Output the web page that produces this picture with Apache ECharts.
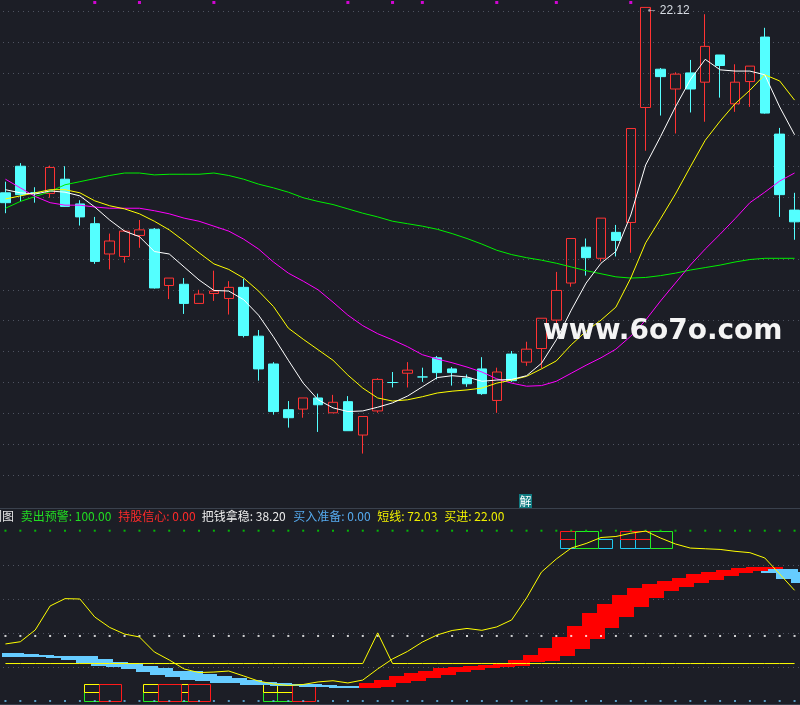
<!DOCTYPE html>
<html>
<head>
<meta charset="utf-8">
<title>K线 副图</title>
<script src="https://cdn.jsdelivr.net/npm/echarts@6.0.0/dist/echarts.min.js"></script>
<style>
html,body{margin:0;padding:0;background:#1c1e26;overflow:hidden;}
#chart{width:800px;height:705px;}
</style>
</head>
<body>
<div id="chart"></div>
<script>
// ---------- main panel data: [open, close, low, high] ----------
const ohlc = [
 [19.12,18.96,18.79,19.30],[19.55,19.09,18.98,19.60],[19.12,19.12,18.96,19.21],[19.11,19.53,19.04,19.56],
 [19.34,18.90,18.89,19.55],[18.94,18.73,18.59,19.00],[18.62,18.01,17.97,18.73],[18.13,18.34,17.88,18.46],
 [18.09,18.50,17.99,18.52],[18.43,18.52,18.23,18.68],[18.53,17.58,17.57,18.55],[17.62,17.74,17.40,17.74],
 [17.64,17.33,17.16,17.74],[17.33,17.48,17.33,17.55],[17.49,17.53,17.37,17.86],[17.41,17.59,17.15,17.69],
 [17.59,16.81,16.78,17.73],[16.80,16.27,16.08,16.90],[16.35,15.58,15.53,16.38],[15.61,15.48,15.32,15.75],
 [15.62,15.80,15.48,15.80],[15.80,15.69,15.25,15.87],[15.56,15.73,15.56,15.85],[15.74,15.27,15.27,15.83],
 [15.20,15.50,14.90,15.50],[15.59,16.10,15.56,16.12],[16.05,16.05,15.97,16.22],[16.20,16.25,15.97,16.38],
 [16.14,16.14,16.06,16.29],[16.45,16.21,16.10,16.48],[16.27,16.21,16.00,16.30],[16.12,16.03,15.98,16.18],
 [16.27,15.87,15.85,16.46],[15.76,16.22,15.56,16.29],[16.51,16.08,16.06,16.56],[16.38,16.59,16.32,16.71],
 [16.60,17.09,16.28,17.09],[17.06,17.54,16.98,17.84],[17.66,18.38,17.60,18.38],[18.24,18.07,17.78,18.38],
 [18.06,18.71,18.01,18.71],[18.48,18.35,18.09,18.60],[18.64,20.16,18.15,20.16],[20.50,22.12,19.80,22.12],
 [21.12,21.00,20.37,21.14],[20.80,21.04,20.08,21.07],[21.06,20.80,20.42,21.27],[20.91,21.49,20.27,22.01],
 [21.35,21.18,20.66,21.35],[20.56,20.91,20.43,21.20],[20.92,21.17,20.51,21.17],[21.64,20.41,20.40,21.79],
 [20.07,19.09,18.73,20.17],[18.84,18.65,18.36,19.12]
];
const ma5 = [19.17,19.12,19.10,19.15,19.13,19.07,18.89,18.68,18.50,18.41,18.17,18.13,17.92,17.71,17.54,17.53,17.39,17.14,16.79,16.41,16.04,15.77,15.64,15.58,15.59,15.65,15.72,15.83,15.98,16.13,16.16,16.14,16.07,16.09,16.10,16.16,16.36,16.74,17.22,17.66,17.98,18.17,18.76,19.57,20.03,20.51,20.95,21.28,21.11,21.09,21.09,21.03,20.51,20.06];
const ma10 = [19.02,19.07,19.12,19.17,19.17,19.12,18.99,18.91,18.86,18.78,18.66,18.52,18.34,18.15,17.97,17.88,17.74,17.53,17.28,16.93,16.75,16.58,16.41,16.17,15.96,15.80,15.75,15.77,15.82,15.88,15.91,15.93,15.96,16.04,16.09,16.15,16.27,16.40,16.66,16.88,17.06,17.27,17.74,18.31,18.70,19.10,19.54,19.97,20.28,20.56,20.78,21.03,20.93,20.62];
const ma20 = [19.34,19.20,19.06,18.96,18.92,18.92,18.89,18.87,18.87,18.87,18.83,18.78,18.71,18.66,18.58,18.50,18.37,18.21,18.00,17.82,17.69,17.55,17.35,17.14,16.97,16.84,16.74,16.63,16.50,16.43,16.37,16.30,16.22,16.11,16.04,15.99,16.00,16.07,16.20,16.33,16.45,16.59,16.80,17.06,17.37,17.66,17.95,18.21,18.45,18.70,18.96,19.13,19.31,19.44];
const ma60 = [18.87,18.98,19.06,19.14,19.25,19.30,19.35,19.40,19.44,19.44,19.41,19.42,19.42,19.42,19.44,19.40,19.34,19.26,19.20,19.13,19.04,18.98,18.93,18.86,18.79,18.73,18.66,18.62,18.58,18.53,18.46,18.38,18.29,18.19,18.12,18.07,18.03,17.98,17.92,17.86,17.81,17.76,17.74,17.75,17.78,17.82,17.87,17.91,17.95,18.00,18.04,18.06,18.06,18.06];
// small magenta signal squares at the top of the main panel
const signalIdx = [6, 9, 14, 23, 26, 28, 33, 37, 42];
const signalLevel = 22.20;
// price axis range and gridline count
const priceMin = 14.05, priceMax = 22.24;

// ---------- lower panel data ----------
const shortLine = [33.5,34.8,41.7,55.8,60.1,59.9,49.3,43.2,39.3,37.6,28.8,24.1,18.8,16.7,17.0,17.6,14.7,11.7,10.0,9.1,9.7,11.2,11.9,10.6,12.3,18.8,24.7,29.1,34.6,38.8,41.4,42.6,41.5,43.5,47.6,60.5,75.7,83.4,89.8,92.5,96.0,96.6,98.5,99.8,95.7,92.2,89.8,89.4,89.0,87.9,87.1,84.0,74.6,65.0];
const buyLine = [
 22,22,22,22,22,22,22,22,22,22,
 22,22,22,22,22,22,22,22,22,22,
 22,22,22,22,22,40,22,22,22,22,
 22,22,22,22,22,22,22,22,22,22,
 22,22,22,22,22,22,22,22,22,22,
 22,22,22,22];
const sellWarn = [
 100,100,100,100,100,100,100,100,100,100,
 100,100,100,100,100,100,100,100,100,100,
 100,100,100,100,100,100,100,100,100,100,
 100,100,100,100,100,100,100,100,100,100,
 100,100,100,100,100,100,100,100,100,100,
 100,100,100,100];
const holdSteady = [
 38.2,38.2,38.2,38.2,38.2,38.2,38.2,38.2,38.2,38.2,
 38.2,38.2,38.2,38.2,38.2,38.2,38.2,38.2,38.2,38.2,
 38.2,38.2,38.2,38.2,38.2,38.2,38.2,38.2,38.2,38.2,
 38.2,38.2,38.2,38.2,38.2,38.2,38.2,38.2,38.2,38.2,
 38.2,38.2,38.2,38.2,38.2,38.2,38.2,38.2,38.2,38.2,
 38.2,38.2,38.2,38.2];
const buyPrep = [
 0,0,0,0,0,0,0,0,0,0,
 0,0,0,0,0,0,0,0,0,0,
 0,0,0,0,0,0,0,0,0,0,
 0,0,0,0,0,0,0,0,0,0,
 0,0,0,0,0,0,0,0,0,0,
 0,0,0,0];
// ribbon: [barIndex, low, high]
const bandBlue = [
 [0,26.0,28.2],[1,26.0,27.8],[2,25.8,27.2],[3,25.2,26.4],[4,24.1,26.4],[5,22.1,26.4],
 [6,20.7,24.7],[7,20.1,22.9],[8,18.8,22.5],[9,17.2,20.6],[10,15.3,19.2],[11,13.9,17.8],
 [12,12.3,17.8],[13,11.9,15.9],[14,10.7,14.7],[15,10.4,13.3],[16,9.4,12.3],[17,9.4,11.3],
 [18,8.8,10.4],[19,8.8,10.0],[20,8.4,9.8],[21,8.4,9.4],[22,7.8,9.0],[23,7.8,9.0],
 [51,75.3,77.5],[52,71.6,77.5],[53,69.5,75.9]
];
const bandRed = [
 [24,7.8,10.7],[25,8.4,12.3],[26,10.4,14.7],[27,11.9,16.3],[28,13.7,17.6],[29,15.3,19.6],
 [30,17.2,20.1],[31,18.2,20.6],[32,19.2,21.3],[33,20.1,22.1],[34,20.3,24.1],[35,23.1,27.0],
 [36,23.5,31.3],[37,26.4,37.6],[38,30.5,44.0],[39,36.4,51.9],[40,43.0,57.0],[41,49.5,62.2],
 [42,55.4,66.4],[43,60.7,68.7],[44,64.6,70.5],[45,67.1,72.2],[46,69.3,74.6],[47,71.1,75.7],
 [48,73.6,76.9],[49,75.3,78.1],[50,76.5,78.7],[51,77.5,78.7]
];
// signal boxes (bar indices)
const boxBottomGreen = [5, 9, 11, 17, 18];
const boxBottomYellow = [5, 9, 11, 17, 18];
const boxBottomRed = [6, 10, 12, 19];
const boxTopCyan = [37, 39, 41, 42];
const boxTopRed = [37, 41, 42];
const boxTopGreen = [38, 43];

// header values
const hdr = { sellWarn: 100.00, holdConf: 0.00, holdSteady: 38.20, buyPrep: 0.00, short: 72.03, buy: 22.00 };

// ---------- styling ----------
const BG = '#1c1e26';
const RED = '#ff3333', CY = '#54ffff';
const GRIDC = '#4e5360';

const chart = echarts.init(document.getElementById('chart'));
const categories = ohlc.map((_, i) => String(i + 1));
const candleData = ohlc.map(d => d[0] === d[1]
  ? { value: d, itemStyle: { color: CY, color0: CY, borderColor: CY, borderColor0: CY } }
  : d);

function rectRender(off0, off1, fill, stroke) {
  return function (params, api) {
    const i = api.value(0);
    const pLo = api.coord([i, api.value(1)]);
    const pHi = api.coord([i, api.value(2)]);
    const bw = api.size([1, 0])[0];
    const h = stroke ? 0.5 : 0;
    const x0 = Math.round(pLo[0] + off0 * bw) + h;
    const x1 = Math.round(pLo[0] + off1 * bw) + h;
    const y0 = Math.round(pHi[1]) + h;
    const y1 = Math.round(pLo[1]) + h;
    return { type: 'rect', shape: { x: x0, y: y0, width: x1 - x0, height: y1 - y0 },
             style: { fill: fill, stroke: stroke || null, lineWidth: 1 } };
  };
}
function boxSeries(idx, lo, hi, stroke, z) {
  return { type: 'custom', xAxisIndex: 1, yAxisIndex: 2, z: z, silent: true,
    renderItem: rectRender(0.27, 1.77, BG, stroke),
    data: idx.map(i => [i, lo, hi]) };
}
function bandSeries(data, fill, z) {
  return { type: 'custom', xAxisIndex: 1, yAxisIndex: 2, z: z, silent: true,
    renderItem: rectRender(-0.26, 1.24, fill, null), data: data };
}
function dotSeries(data, color) {
  return { type: 'scatter', xAxisIndex: 1, yAxisIndex: 2, z: 6, silent: true, clip: false,
    symbol: 'rect', symbolSize: 2, itemStyle: { color: color }, data: data };
}
function maSeries(data, color) {
  return { type: 'line', xAxisIndex: 0, yAxisIndex: 0, z: 4, data: data, symbol: 'none',
    silent: true, lineStyle: { color: color, width: 1 } };
}

const hidden = { axisLine: { show: false }, axisTick: { show: false }, axisLabel: { show: false } };
const hdrFont = '12px "Noto Sans CJK SC"';
function hdrText(x, text, color) {
  return { type: 'text', x: x, y: 516.5, silent: true,
    style: { text: text, fill: color, font: hdrFont, textVerticalAlign: 'middle', verticalAlign: 'middle' } };
}

const option = {
  backgroundColor: BG,
  animation: false,
  grid: [
    { left: -2, right: -2, top: 0, height: 506.1, outerBoundsMode: 'none', containLabel: false },
    { left: -2, right: -2, top: 530.7, height: 170.3, outerBoundsMode: 'none', containLabel: false }
  ],
  xAxis: [
    { type: 'category', gridIndex: 0, data: categories, boundaryGap: true, show: false },
    { type: 'category', gridIndex: 1, data: categories, boundaryGap: true, show: false }
  ],
  yAxis: [
    { type: 'value', gridIndex: 0, min: priceMin, max: priceMax, show: false },
    Object.assign({ type: 'value', gridIndex: 0, min: 0, max: 16.379, interval: 1,
      splitLine: { show: true, showMinLine: false, showMaxLine: false,
        lineStyle: { color: GRIDC, type: [1, 4], width: 1 } } }, hidden),
    Object.assign({ type: 'value', gridIndex: 1, min: 0, max: 100, interval: 20,
      splitLine: { show: true, showMinLine: false, showMaxLine: false,
        lineStyle: { color: GRIDC, type: [1, 4], width: 1 } } }, hidden)
  ],
  series: [
    { type: 'candlestick', xAxisIndex: 0, yAxisIndex: 0, z: 3, barWidth: 10, silent: true,
      data: candleData,
      itemStyle: { color: 'transparent', color0: CY, borderColor: RED, borderColor0: CY, borderWidth: 1 },
      markPoint: {
        symbol: 'rect', symbolSize: 0.1, silent: true,
        data: [{ type: 'max', valueDim: 'highest' }],
        label: { show: true, position: 'right', distance: 0, offset: [0, 3],
          formatter: p => '{a|←}{b|' + Number(p.value).toFixed(2) + '}',
          rich: {
            a: { color: '#d8dde4', font: '11px "DejaVu Sans"', padding: [-4, 2, 0, 0] },
            b: { color: '#d8dde4', font: '15px "Liberation Sans Narrow", "Liberation Sans"' }
          } }
      } },
    maSeries(ma60, '#00f000'),
    maSeries(ma20, '#ff00ff'),
    maSeries(ma10, '#ffff00'),
    maSeries(ma5, '#ffffff'),
    { type: 'scatter', xAxisIndex: 0, yAxisIndex: 0, z: 5, silent: true, clip: false,
      symbol: 'rect', symbolSize: 3, itemStyle: { color: '#ff00ff' },
      data: signalIdx.map(i => [i, signalLevel]) },

    // lower panel
    boxSeries(boxBottomGreen, 0, 5, '#22ee22', 1),
    boxSeries(boxBottomYellow, 5, 10, '#ffff00', 1),
    boxSeries(boxBottomRed, 0, 10, '#ff1a1a', 1),
    boxSeries(boxTopCyan, 90, 95, '#1ec8f0', 1),
    boxSeries(boxTopRed, 95, 100, '#ff1a1a', 1),
    boxSeries(boxTopGreen, 90, 100, '#22ee22', 1),
    bandSeries(bandBlue, '#66ccff', 2),
    bandSeries(bandRed, '#ff0000', 2),
    dotSeries(sellWarn, '#00dd00'),
    dotSeries(holdSteady, '#ffffff'),
    dotSeries(buyPrep, '#66bbee'),
    { type: 'line', xAxisIndex: 1, yAxisIndex: 2, z: 7, data: buyLine, symbol: 'none', silent: true,
      lineStyle: { color: '#ffff00', width: 1 } },
    { type: 'line', xAxisIndex: 1, yAxisIndex: 2, z: 7, data: shortLine, symbol: 'none', silent: true,
      lineStyle: { color: '#ffff00', width: 1 } }
  ],
  graphic: [
    { type: 'text', x: 543, y: 332, silent: true, z: 100,
      style: { text: 'www.6o7o.com', fill: '#f4f4f4', font: 'bold 28px "DejaVu Sans"',
               textVerticalAlign: 'middle', verticalAlign: 'middle' } },
    { type: 'line', silent: true, shape: { x1: 0, y1: 508.5, x2: 800, y2: 508.5 },
      style: { stroke: '#3a414d', lineWidth: 1 } },
    { type: 'line', silent: true, shape: { x1: 0, y1: 704.5, x2: 800, y2: 704.5 },
      style: { stroke: '#3a414d', lineWidth: 1 } },
    { type: 'rect', silent: true, shape: { x: 519, y: 494, width: 13, height: 14 },
      style: { fill: '#0f7a80' } },
    { type: 'text', x: 525.5, y: 501, silent: true,
      style: { text: '解', fill: '#ffffff', font: '12px "Noto Sans CJK SC"',
               textAlign: 'center', align: 'center', textVerticalAlign: 'middle', verticalAlign: 'middle' } },
    hdrText(-10, '副图', '#e6e6e6'),
    hdrText(20.7, '卖出预警: ' + hdr.sellWarn.toFixed(2), '#22dd22'),
    hdrText(118.3, '持股信心: ' + hdr.holdConf.toFixed(2), '#ff2a2a'),
    hdrText(201.7, '把钱拿稳: ' + hdr.holdSteady.toFixed(2), '#ececec'),
    hdrText(293.3, '买入准备: ' + hdr.buyPrep.toFixed(2), '#55aaee'),
    hdrText(377.3, '短线: ' + hdr.short.toFixed(2), '#f0f000'),
    hdrText(444.3, '买进: ' + hdr.buy.toFixed(2), '#f0f000')
  ]
};
chart.setOption(option);
</script>
</body>
</html>
